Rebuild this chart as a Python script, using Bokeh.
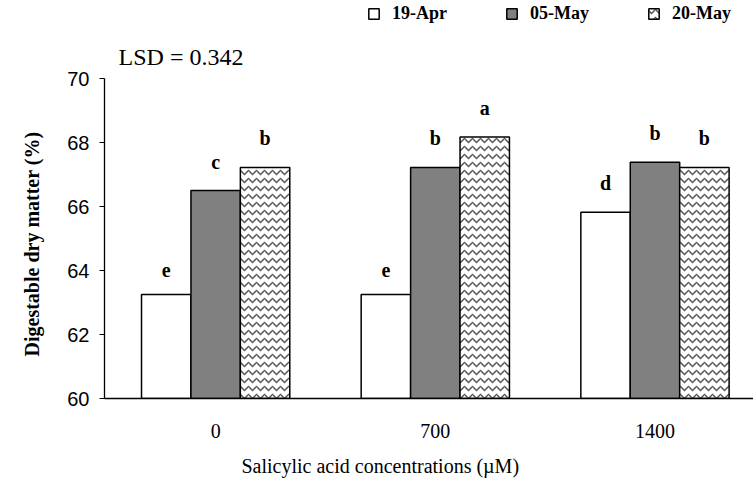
from bokeh.plotting import figure
from bokeh.models import ColumnDataSource, Legend, LegendItem, Label, FixedTicker, Title
from bokeh.core.properties import value
from bokeh.embed import file_html
from bokeh.resources import INLINE

categories = ["0", "700", "1400"]
series_names = ["19-Apr", "05-May", "20-May"]
apr19 = [63.25, 63.25, 65.82]
may05 = [66.5, 67.22, 67.38]
may20 = [67.22, 68.17, 67.22]
letters_apr19 = ["e", "e", "d"]
letters_may05 = ["c", "b", "b"]
letters_may20 = ["b", "a", "b"]
y_ticks = [60, 62, 64, 66, 68, 70]
lsd_text = "LSD = 0.342"
x_title = "Salicylic acid concentrations (\u00b5M)"
y_title = "Digestable dry matter (%)"

SERIF = "Liberation Serif"
SANS = "Liberation Sans"

p = figure(width=753, height=488, output_backend="svg", toolbar_location=None, title=None,
           x_range=(-0.506, 2.4485), y_range=(60, 72.4375),
           min_border_left=103, min_border_right=0, min_border_top=0, min_border_bottom=90)
p.outline_line_color = None
p.xgrid.visible = False
p.ygrid.visible = False
p.background_fill_color = "white"

idx = list(range(len(categories)))
w = 0.225
series = [
    (apr19, letters_apr19, -w, dict(fill_color="white")),
    (may05, letters_may05, 0.0, dict(fill_color="#808080")),
    (may20, letters_may20, w, dict(fill_color="white", hatch_pattern="horizontal_wave",
                                    hatch_color="#555555", hatch_scale=8, hatch_weight=1.5)),
]
renderers = []
for vals, lets, off, style in series:
    src = ColumnDataSource(dict(x=[i + off for i in idx], top=vals, lab=lets))
    r = p.vbar(x="x", top="top", bottom=60, width=w, source=src,
               line_color="black", line_width=1.5, **style)
    renderers.append(r)
    p.text(x="x", y="top", text="lab", source=src, text_align="center",
           text_baseline="bottom", y_offset=-18, text_font=value(SERIF),
           text_font_style="bold", text_font_size="20px", text_color="black")

legend = Legend(items=[LegendItem(label=n, renderers=[r]) for n, r in zip(series_names, renderers)],
                orientation="horizontal", location=(263, 374), glyph_width=13, glyph_height=13,
                label_standoff=12, spacing=58, padding=0, margin=0,
                border_line_color=None, background_fill_alpha=0,
                label_text_font=SERIF, label_text_font_style="bold", label_text_font_size="18px",
                label_text_color="black")
p.add_layout(legend, "center")

p.yaxis.ticker = FixedTicker(ticks=y_ticks)
p.yaxis.bounds = (60, 70)
p.yaxis.minor_tick_line_color = None
p.yaxis.major_tick_in = 0
p.yaxis.major_tick_out = 5
p.yaxis.major_label_standoff = 10
p.yaxis.major_label_text_font = SANS
p.yaxis.major_label_text_font_size = "20px"
p.yaxis.major_label_text_color = "black"
p.yaxis.axis_line_color = "black"
p.yaxis.axis_line_width = 1.3

p.xaxis.ticker = FixedTicker(ticks=idx)
p.xaxis.major_label_overrides = {i: c for i, c in zip(idx, categories)}
p.xaxis.minor_tick_line_color = None
p.xaxis.major_tick_in = 0
p.xaxis.major_tick_out = 0
p.xaxis.major_label_standoff = 25
p.xaxis.major_label_text_font = SERIF
p.xaxis.major_label_text_font_size = "20px"
p.xaxis.major_label_text_color = "black"
p.xaxis.axis_line_color = "black"
p.xaxis.axis_line_width = 1.3

p.add_layout(Label(x=-0.442, y=70.68, text=lsd_text, text_font=SERIF, text_font_size="24px",
                   text_baseline="alphabetic", text_align="left", text_color="black"))
p.add_layout(Title(text=x_title, align="left", offset=137, standoff=24, vertical_align="bottom",
                   text_font=SERIF, text_font_size="20px", text_font_style="normal",
                   text_color="black"), "below")
p.add_layout(Title(text=y_title, align="left", offset=42, standoff=40, vertical_align="top",
                   text_font=SERIF, text_font_size="20px", text_font_style="bold",
                   text_color="black"), "left")

open("out.html", "w").write(file_html(p, INLINE))
